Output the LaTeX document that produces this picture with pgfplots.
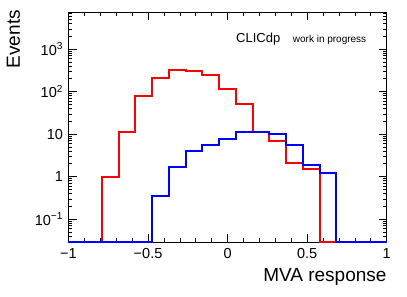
\documentclass[border=0pt]{standalone}
\usepackage{pgfplots}
\pgfplotsset{compat=1.18}
\usepackage{fontspec}
\setmainfont{Liberation Sans}
\pgfplotstableread{
x y
-1 0.0285
-0.8947 0.0285
-0.7895 0.98
-0.6842 11.2
-0.5789 79
-0.4737 206
-0.3684 315
-0.2632 310
-0.1579 245
-0.0526 116
0.0526 50
0.1579 11
0.2632 7.0
0.3684 2.15
0.4737 1.49
0.5789 0.0285
0.6842 0.0285
0.7895 0.0285
0.8947 0.0285
1 0.0285
}\redhist
\pgfplotstableread{
x y
-1 0.0285
-0.8947 0.0285
-0.7895 0.0285
-0.6842 0.0285
-0.5789 0.0285
-0.4737 0.35
-0.3684 1.66
-0.2632 4.1
-0.1579 5.6
-0.0526 7.7
0.0526 11.0
0.1579 11.2
0.2632 10.3
0.3684 5.5
0.4737 1.85
0.5789 1.25
0.6842 0.0285
0.7895 0.0285
0.8947 0.0285
1 0.0285
}\bluehist
\begin{document}
\begin{tikzpicture}
\begin{axis}[
  scale only axis, width=318.2pt, height=230pt,
  xmin=-1, xmax=1, ymode=log, ymin=0.0285, ymax=7360,
  xtick={-1,-0.5,0,0.5,1}, xticklabels={−1,−0.5,0,0.5,1},
  minor x tick num=4,
  ytick={0.1,1,10,100,1000},
  yticklabels={10\textsuperscript{−1},1,10,10\textsuperscript{2},10\textsuperscript{3}},
  minor ytick={0.03,0.04,0.05,0.06,0.07,0.08,0.09,0.2,0.3,0.4,0.5,0.6,0.7,0.8,0.9,2,3,4,5,6,7,8,9,20,30,40,50,60,70,80,90,200,300,400,500,600,700,800,900,2000,3000,4000,5000,6000,7000},
  tick label style={font=\fontsize{14.5}{17}\selectfont},
  xticklabel style={yshift=-3pt},
  yticklabel style={xshift=-2pt},
  major tick length=8pt, minor tick length=4pt,
  tick style={black, line width=0.7pt},
  axis line style={line width=1pt},
  clip=false,
]
\addplot[const plot mark left, red, line width=2pt] table[x=x,y=y] {\redhist};
\addplot[const plot mark left, blue, line width=2pt] table[x=x,y=y] {\bluehist};
\end{axis}
\node[anchor=base west, inner sep=0, font=\fontsize{13}{15}\selectfont] at ([shift={(167.5pt,199.6pt)}]current axis.south west) {CLICdp};
\node[anchor=base west, inner sep=0, font=\fontsize{10}{12}\selectfont] at ([shift={(224.2pt,200pt)}]current axis.south west) {work in progress};
\node[rotate=90, anchor=north east, inner sep=0, font=\fontsize{19}{22}\selectfont] at ([shift={(-61.8pt,232.3pt)}]current axis.south west) {Events};
\node[anchor=base east, inner sep=0, font=\fontsize{19}{22}\selectfont] at ([shift={(318.2pt,-39.4pt)}]current axis.south west) {MVA response};
\pgfresetboundingbox
\path[use as bounding box] ([shift={(-68.5pt,-54.7pt)}]current axis.south west) rectangle ([shift={(20.3pt,12.3pt)}]current axis.north east);
\end{tikzpicture}
\end{document}
